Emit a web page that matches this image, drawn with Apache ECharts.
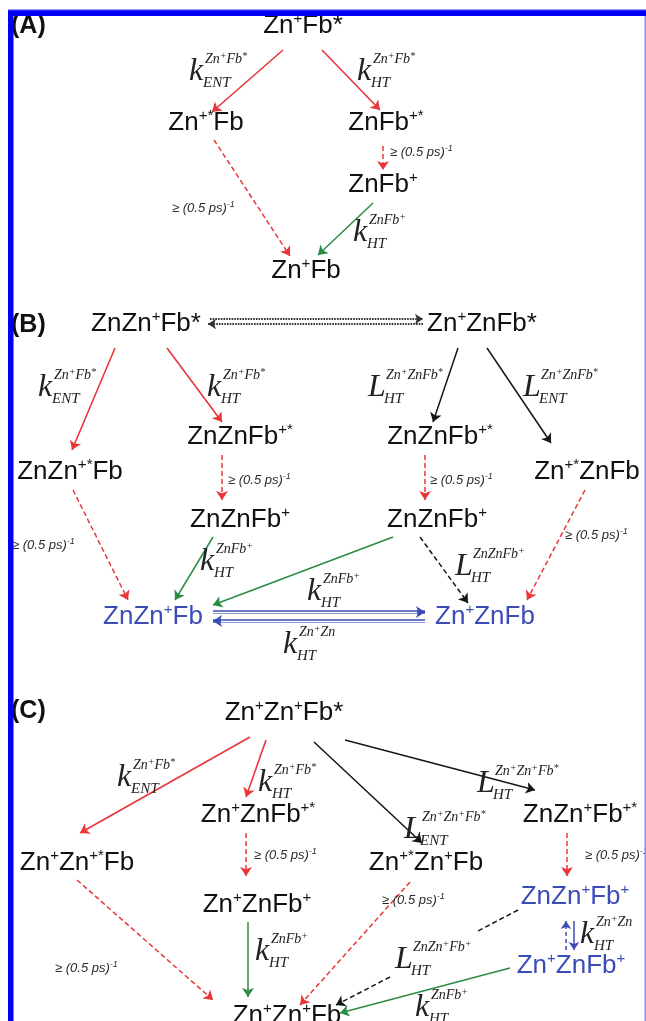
<!DOCTYPE html>
<html>
<head>
<meta charset="utf-8">
<script src="https://cdn.jsdelivr.net/npm/echarts@6/dist/echarts.min.js"></script>
<style>
  html, body { margin: 0; padding: 0; background: #fff; }
  #main { width: 646px; height: 1021px; }
</style>
</head>
<body>
<div id="main"></div>
<script>
// ---- Scheme data (scheme units; the axes span 0..646 by 0..1021) ----
const panelText = ['(A)', '(B)', '(C)'];
const panelX = [11, 11, 11];
const panelY = [26, 325, 711];

// Species markup: ^x or ^{xy} marks a superscript
const speciesText = [
  'Zn^+Fb*', 'Zn^{+*}Fb', 'ZnFb^{+*}', 'ZnFb^+', 'Zn^+Fb',
  'ZnZn^+Fb*', 'Zn^+ZnFb*', 'ZnZnFb^{+*}', 'ZnZnFb^{+*}', 'ZnZn^{+*}Fb', 'Zn^{+*}ZnFb',
  'ZnZnFb^+', 'ZnZnFb^+', 'ZnZn^+Fb', 'Zn^+ZnFb',
  'Zn^+Zn^+Fb*', 'Zn^+ZnFb^{+*}', 'ZnZn^+Fb^{+*}', 'Zn^+Zn^{+*}Fb', 'Zn^{+*}Zn^+Fb',
  'Zn^+ZnFb^+', 'ZnZn^+Fb^+', 'Zn^+ZnFb^+', 'Zn^+Zn^+Fb'
];
const speciesX = [303, 206, 386, 383, 306,
  146, 482, 240, 440, 70, 587, 240, 437, 153, 485,
  284, 258, 580, 77, 426, 257, 575, 571, 287];
const speciesY = [26, 123, 123, 185, 271,
  324, 324, 437, 437, 472, 472, 520, 520, 617, 617,
  713, 815, 815, 863, 863, 905, 897, 966, 1016];
// 1 = species that interconvert by Zn-to-Zn hole hopping
const speciesShifted = [0, 0, 0, 0, 0,
  0, 0, 0, 0, 0, 0, 0, 0, 1, 1,
  0, 0, 0, 0, 0, 0, 1, 1, 0];

// Arrows: [x1, y1, x2, y2], grouped by process
const excitedArrows = [            // red solid: ENT / HT from the excited state
  [283, 50, 212, 112], [322, 50, 380, 110],
  [115, 348, 72, 450], [167, 348, 222, 422],
  [250, 737, 80, 833], [266, 740, 246, 797]
];
const relaxArrows = [              // red dashed: >= (0.5 ps)^-1 relaxation
  [214, 140, 290, 256], [383, 146, 383, 170],
  [222, 455, 222, 500], [425, 455, 425, 500], [73, 490, 128, 600], [585, 490, 527, 600],
  [246, 833, 246, 876], [567, 833, 567, 876], [77, 880, 213, 1000], [410, 882, 300, 1005]
];
const holeArrows = [               // green: ground-state hole transfer
  [373, 203, 318, 255],
  [213, 537, 175, 600], [393, 537, 213, 605],
  [248, 922, 248, 997], [510, 968, 340, 1013]
];
const longArrows = [               // black solid: long-range processes
  [458, 348, 433, 422], [487, 348, 551, 443],
  [314, 742, 422, 843], [345, 740, 535, 790]
];
const longDashedArrows = [         // black dashed
  [420, 537, 468, 603], [390, 977, 336, 1005]
];
const longDashedLeads = [          // dashed lead-in interrupted by its rate label
  [518, 910, 478, 931]
];
const excitonArrows = [            // dotted excitation exchange
  [210, 319, 423, 319], [423, 324, 208, 324]
];
const znArrows = [                 // blue double-stroke: Zn-Zn hole hopping
  [213, 612, 425, 612], [425, 621, 213, 621]
];
const znStepArrows = [             // blue, single stroke
  [574, 921, 574, 950]
];
const znDashedArrows = [
  [566, 950, 566, 921]
];

// Rate constants: letter, subscript, superscript
const rateX = [189, 357, 353,
  38, 207, 368, 523, 200, 307, 455, 283,
  117, 258, 404, 477, 255, 395, 580, 415];
const rateY = [72, 72, 233,
  388, 388, 388, 388, 562, 592, 567, 645,
  778, 783, 830, 784, 952, 960, 935, 1008];
const rateLetter = ['k', 'k', 'k',
  'k', 'k', 'L', 'L', 'k', 'k', 'L', 'k',
  'k', 'k', 'L', 'L', 'k', 'L', 'k', 'k'];
const rateSub = ['ENT', 'HT', 'HT',
  'ENT', 'HT', 'HT', 'ENT', 'HT', 'HT', 'HT', 'HT',
  'ENT', 'HT', 'ENT', 'HT', 'HT', 'HT', 'HT', 'HT'];
const rateSup = ['Zn^+Fb^*', 'Zn^+Fb^*', 'ZnFb^+',
  'Zn^+Fb^*', 'Zn^+Fb^*', 'Zn^+ZnFb^*', 'Zn^+ZnFb^*', 'ZnFb^+', 'ZnFb^+', 'ZnZnFb^+', 'Zn^+Zn',
  'Zn^+Fb^*', 'Zn^+Fb^*', 'Zn^+Zn^+Fb^*', 'Zn^+Zn^+Fb^*', 'ZnFb^+', 'ZnZn^+Fb^+', 'Zn^+Zn', 'ZnFb^+'];

// Relaxation-rate annotations
const relaxText = '\u2265 (0.5 ps)^{-1}';
const relaxX = [390, 172, 228, 430, 12, 565, 254, 585, 55, 382];
const relaxY = [152, 208, 480, 480, 545, 535, 855, 855, 968, 900];

// ---- Styling ----
const SANS = '"Liberation Sans", Arial, Helvetica, sans-serif';
const SERIF = '"Liberation Serif", "Times New Roman", serif';
const RED = '#e8363b';
const GREEN = '#2b8b42';
const BLACK = '#161616';
const BLUE = '#3c4cb6';

// Convert ^-markup to a rich-text string
function toRich(markup, base, sup) {
  let out = '', buf = '', i = 0;
  const flush = () => { if (buf) { out += '{' + base + '|' + buf + '}'; buf = ''; } };
  while (i < markup.length) {
    const c = markup[i];
    if (c === '^') {
      flush();
      let s;
      if (markup[i + 1] === '{') {
        const j = markup.indexOf('}', i);
        s = markup.slice(i + 2, j);
        i = j + 1;
      } else {
        s = markup[i + 1];
        i += 2;
      }
      out += '{' + sup + '|' + s + '}';
    } else {
      buf += c;
      i++;
    }
  }
  flush();
  return out;
}

function speciesRich(color) {
  return {
    n: { fill: color, fontFamily: SANS, fontSize: 26, lineHeight: 30 },
    s: { fill: color, fontFamily: SANS, fontSize: 15, lineHeight: 15, verticalAlign: 'top' }
  };
}

const rateRich = {
  b: { fill: '#222', fontFamily: SERIF, fontStyle: 'italic', fontSize: 14, lineHeight: 16 },
  p: { fill: '#222', fontFamily: SERIF, fontStyle: 'italic', fontSize: 10, lineHeight: 10, verticalAlign: 'top' }
};

const relaxRich = {
  t: { fill: '#2a2a2a', fontFamily: SANS, fontStyle: 'italic', fontSize: 13, lineHeight: 16 },
  e: { fill: '#2a2a2a', fontFamily: SANS, fontStyle: 'italic', fontSize: 9, lineHeight: 9, verticalAlign: 'top' }
};

function arrowSeries(list, color, width, type, size, noHead) {
  return {
    type: 'lines',
    coordinateSystem: 'cartesian2d',
    silent: true,
    symbol: ['none', noHead ? 'none' : 'arrow'],
    symbolSize: size || 9,
    lineStyle: { color: color, width: width, type: type || 'solid', opacity: 1, curveness: 0 },
    data: list.map(a => ({ coords: [[a[0], a[1]], [a[2], a[3]]] })),
    z: 2
  };
}

// white core that makes the Zn-Zn arrows look double-stroked
function coreSeries(list) {
  return {
    type: 'lines',
    coordinateSystem: 'cartesian2d',
    silent: true,
    symbol: ['none', 'none'],
    lineStyle: { color: '#fff', width: 1.3, opacity: 1 },
    data: list.map(a => {
      const dx = a[2] - a[0], dy = a[3] - a[1];
      const len = Math.hypot(dx, dy);
      const k = (len - 8) / len;
      return { coords: [[a[0], a[1]], [a[0] + dx * k, a[1] + dy * k]] };
    }),
    z: 3
  };
}

const chart = echarts.init(document.getElementById('main'), null, { renderer: 'canvas' });

chart.setOption({
  animation: false,
  backgroundColor: '#fff',
  grid: { left: 0, right: 0, top: 0, bottom: 0 },
  xAxis: { type: 'value', min: 0, max: 646, show: false },
  yAxis: { type: 'value', min: 0, max: 1021, inverse: true, show: false },
  graphic: [
    { type: 'rect', shape: { x: 8, y: 10, width: 640, height: 6 }, style: { fill: '#0000f2' }, z: 100 },
    { type: 'rect', shape: { x: 8, y: 10, width: 5.5, height: 1011 }, style: { fill: '#0000f2' }, z: 100 },
    { type: 'rect', shape: { x: 8, y: 9, width: 640, height: 1.2 }, style: { fill: '#9b9bff' }, z: 100 },
    { type: 'rect', shape: { x: 644.5, y: 16, width: 1.5, height: 1005 }, style: { fill: '#8f8ff5' }, z: 100 }
  ],
  series: [
    arrowSeries(excitedArrows, RED, 1.6),
    arrowSeries(relaxArrows, RED, 1.5, [5, 3]),
    arrowSeries(holeArrows, GREEN, 1.5),
    arrowSeries(longArrows, BLACK, 1.5),
    arrowSeries(longDashedArrows, BLACK, 1.5, [5, 3]),
    arrowSeries(longDashedLeads, BLACK, 1.5, [5, 3], 9, true),
    arrowSeries(excitonArrows, '#333', 2.2, [1.6, 1.1], 8),
    arrowSeries(znArrows, BLUE, 3.6),
    coreSeries(znArrows),
    arrowSeries(znStepArrows, BLUE, 1.5, 'solid', 8),
    arrowSeries(znDashedArrows, BLUE, 1.5, [4, 3], 8),
    {
      // species
      type: 'custom',
      coordinateSystem: 'cartesian2d',
      silent: true,
      clip: false,
      z: 5,
      data: speciesX.map((x, i) => [x, speciesY[i], i]),
      renderItem: function (params, api) {
        const i = api.value(2);
        const p = api.coord([api.value(0), api.value(1)]);
        const color = speciesShifted[i] ? BLUE : '#111';
        return {
          type: 'text',
          x: p[0], y: p[1],
          style: {
            text: toRich(speciesText[i], 'n', 's'),
            rich: speciesRich(color),
            align: 'center', verticalAlign: 'middle',
            fill: color, fontFamily: SANS, fontSize: 26
          }
        };
      }
    },
    {
      // panel letters
      type: 'custom',
      coordinateSystem: 'cartesian2d',
      silent: true,
      clip: false,
      z: 5,
      data: panelX.map((x, i) => [x, panelY[i], i]),
      renderItem: function (params, api) {
        const i = api.value(2);
        const p = api.coord([api.value(0), api.value(1)]);
        return {
          type: 'text',
          x: p[0], y: p[1],
          style: {
            text: panelText[i],
            fill: '#111', fontFamily: SANS, fontWeight: 'bold', fontSize: 25,
            align: 'left', verticalAlign: 'middle'
          }
        };
      }
    },
    {
      // rate constants
      type: 'custom',
      coordinateSystem: 'cartesian2d',
      silent: true,
      clip: false,
      z: 5,
      data: rateX.map((x, i) => [x, rateY[i], i]),
      renderItem: function (params, api) {
        const i = api.value(2);
        const p = api.coord([api.value(0), api.value(1)]);
        const letter = rateLetter[i];
        const w = letter === 'L' ? 18 : 16;
        return {
          type: 'group',
          children: [
            {
              type: 'text', x: p[0], y: p[1],
              style: {
                text: letter, fill: '#222', fontFamily: SERIF, fontStyle: 'italic', fontSize: 32,
                align: 'left', verticalAlign: 'middle'
              }
            },
            {
              type: 'text', x: p[0] + w, y: p[1] - 13,
              style: {
                text: toRich(rateSup[i], 'b', 'p'), rich: rateRich,
                fill: '#222', fontFamily: SERIF, fontStyle: 'italic', fontSize: 14,
                align: 'left', verticalAlign: 'middle'
              }
            },
            {
              type: 'text', x: p[0] + w - 2, y: p[1] + 11,
              style: {
                text: rateSub[i], fill: '#222', fontFamily: SERIF, fontStyle: 'italic', fontSize: 15,
                align: 'left', verticalAlign: 'middle'
              }
            }
          ]
        };
      }
    },
    {
      // relaxation annotations
      type: 'custom',
      coordinateSystem: 'cartesian2d',
      silent: true,
      clip: false,
      z: 5,
      data: relaxX.map((x, i) => [x, relaxY[i], i]),
      renderItem: function (params, api) {
        const p = api.coord([api.value(0), api.value(1)]);
        return {
          type: 'text',
          x: p[0], y: p[1],
          style: {
            text: toRich(relaxText, 't', 'e'), rich: relaxRich,
            fill: '#2a2a2a', fontFamily: SANS, fontStyle: 'italic', fontSize: 13,
            align: 'left', verticalAlign: 'middle'
          }
        };
      }
    }
  ]
});
</script>
</body>
</html>
